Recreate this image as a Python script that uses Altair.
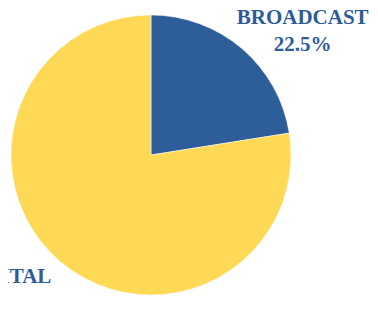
import altair as alt
import pandas as pd

categories = ["BROADCAST", "DIGITAL"]
shares = [22.5, 77.5]
labels = ["BROADCAST\n22.5%", "DIGITAL"]
colors = ["#2e5e99", "#fed955"]

df = pd.DataFrame({"category": categories, "share": shares, "label": labels,
                   "order": [0, 1]})

CX, CY, R = 143, 147, 140

pie = alt.Chart(df).mark_arc(stroke="white", strokeWidth=0.5).encode(
    theta=alt.Theta("share:Q", stack=True),
    order=alt.Order("order:Q"),
    color=alt.Color("category:N", scale=alt.Scale(domain=categories, range=colors), legend=None),
    x=alt.value(CX), y=alt.value(CY),
    radius=alt.value(R),
)

lab_base = alt.Chart(df).transform_window(
    cum="sum(share)", sort=[alt.SortField("order")],
).transform_joinaggregate(total="sum(share)").transform_calculate(
    mid="(datum.cum - datum.share / 2) / datum.total * 100"
)

def label_layer(cat, dx, dy, align):
    return lab_base.transform_filter(alt.datum.category == cat).mark_text(
        font="Liberation Serif", fontWeight="bold", fontSize=21, color="#2e5c97",
        lineBreak="\n", lineHeight=27, align=align, baseline="alphabetic",
        dx=dx, dy=dy,
    ).encode(
        theta=alt.Theta("mid:Q", scale=alt.Scale(domain=[0, 100], range=[0, 6.283185307])),
        text="label:N",
        x=alt.value(CX), y=alt.value(CY),
        radius=alt.value(175),
    )

chart = alt.layer(
    pie,
    label_layer("BROADCAST", 38, 2, "center"),
    label_layer("DIGITAL", 14, -5, "right"),
).resolve_scale(theta="independent").properties(
    width=362, height=300, padding=0,
    autosize=alt.AutoSizeParams(type="none"),
).configure_view(stroke=None)

chart.save("out.html", embed_options={"renderer": "svg", "actions": False})
